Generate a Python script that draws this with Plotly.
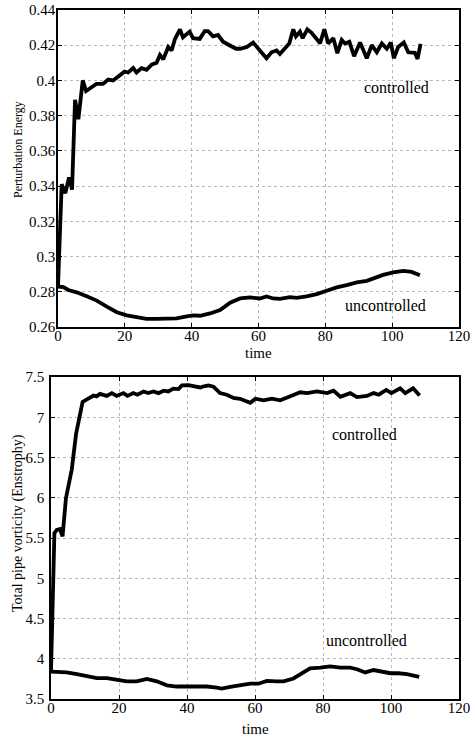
import plotly.graph_objects as go

# ---- Data: top panel (Perturbation Energy) ----
t_ctrl_top = [0, 1.1, 2.2, 3.3, 4.2, 5.1, 6.1, 7.4, 8.4, 10, 11.5, 13.5, 15, 16.5, 18, 19.9, 21, 22.5,
              23.5, 25, 26.5, 28, 29.5, 30.5, 31.5, 33, 34, 35, 36.5, 37.4, 39.4, 40.4, 42.4, 43.9,
              44.9, 46.4, 47.9, 49.4, 51.3, 53.3, 54.5, 56.5, 58.4, 60.4, 62.4, 63.9, 65.4, 66.4,
              67.9, 69.2, 70.4, 71.2, 72.4, 73.2, 74.6, 75.9, 77.2, 78.4, 79.7, 80.9, 82.4, 83.6,
              84.9, 85.9, 87.2, 88.6, 90.4, 92.4, 93.9, 95.4, 96.9, 98.4, 99.6, 100.5, 101.8,
              103.5, 104.8, 106.8, 107.6, 108.5]
e_ctrl = [0.283, 0.341, 0.336, 0.345, 0.338, 0.389, 0.378, 0.400, 0.394, 0.396, 0.398, 0.398, 0.4005,
          0.400, 0.402, 0.405, 0.4045, 0.407, 0.4045, 0.407, 0.406, 0.409, 0.410, 0.4145, 0.412, 0.419,
          0.417, 0.4235, 0.429, 0.4245, 0.4277, 0.424, 0.4236, 0.428, 0.428, 0.425, 0.4258, 0.422,
          0.420, 0.418, 0.418, 0.419, 0.4215, 0.4173, 0.4126, 0.416, 0.417, 0.415, 0.418, 0.421,
          0.429, 0.425, 0.4277, 0.424, 0.429, 0.427, 0.424, 0.421, 0.429, 0.421, 0.424, 0.4155,
          0.423, 0.421, 0.422, 0.4138, 0.4215, 0.4126, 0.420, 0.416, 0.421, 0.418, 0.4215, 0.4126,
          0.419, 0.4215, 0.416, 0.4157, 0.4122, 0.4207]

t_unc_top = [0, 1.6, 3.1, 5.6, 8.6, 11.6, 14.6, 17.6, 20.6, 23.5, 26.5, 29.5, 32.5, 35.5, 38.5, 40.5,
             42.5, 45.5, 48.5, 50, 51.5, 54.5, 57.5, 60.4, 62.4, 64.4, 66.4, 69.4, 71.4, 74.4, 77.4,
             80.4, 83.4, 86.4, 89.4, 92.4, 94.9, 97.3, 100.3, 103.3, 105.8, 108.3]
e_unc = [0.283, 0.2826, 0.281, 0.2797, 0.2774, 0.275, 0.2716, 0.2684, 0.2666, 0.2655, 0.2646, 0.2646,
         0.265, 0.2649, 0.266, 0.2666, 0.2664, 0.2677, 0.2696, 0.2715, 0.2738, 0.2762, 0.2768, 0.2762,
         0.2773, 0.2762, 0.276, 0.277, 0.2765, 0.2774, 0.2787, 0.2806, 0.2825, 0.2838, 0.2853, 0.2862,
         0.2882, 0.2896, 0.291, 0.2919, 0.2913, 0.2894]

# ---- Data: bottom panel (Enstrophy) ----
t_ctrl_bot = [0, 1.0, 1.7, 2.6, 3.4, 4.4, 6.1, 7.4, 9.3, 11.0, 12.5, 13.4, 14.4, 16.4, 17.9, 19.3,
              21.3, 22.5, 24.2, 25.4, 27.2, 28.6, 30.1, 31.6, 33.1, 34.5, 36.0, 37.5, 38.5, 40.4,
              42.4, 43.9, 45.0, 46.3, 47.8, 49.7, 51.7, 53.7, 55.6, 58.6, 60.1, 62.5, 65.0, 67.4,
              70.4, 73.3, 75.3, 78.2, 81.2, 83.1, 85.1, 88.0, 90.0, 92.9, 94.9, 96.4, 98.6, 100.1,
              102.7, 104.2, 106.5, 108.4]
s_ctrl = [3.84, 5.56, 5.60, 5.61, 5.52, 5.995, 6.35, 6.80, 7.19, 7.23, 7.27, 7.26, 7.29, 7.265, 7.30,
          7.265, 7.30, 7.265, 7.30, 7.28, 7.32, 7.30, 7.32, 7.30, 7.33, 7.32, 7.355, 7.35, 7.395, 7.40,
          7.385, 7.37, 7.385, 7.395, 7.38, 7.30, 7.28, 7.24, 7.23, 7.18, 7.23, 7.21, 7.23, 7.21, 7.26,
          7.31, 7.30, 7.32, 7.30, 7.33, 7.255, 7.30, 7.25, 7.265, 7.30, 7.28, 7.34, 7.30, 7.36, 7.30,
          7.36, 7.27]

t_unc_bot = [0, 4.6, 7.6, 10.5, 13.5, 16.4, 19.3, 22.3, 25.2, 28.2, 31.1, 34.1, 37.0, 39.9, 42.9,
             45.8, 48.8, 50.2, 52.7, 55.6, 58.6, 61.0, 63.5, 66.4, 68.4, 71.3, 73.8, 76.2, 79.2, 82.1,
             85.1, 88.0, 90.0, 92.4, 94.9, 97.3, 99.8, 102.2, 104.7, 108.3]
s_unc = [3.84, 3.83, 3.81, 3.79, 3.76, 3.76, 3.74, 3.72, 3.72, 3.75, 3.72, 3.67, 3.655, 3.655, 3.65,
         3.655, 3.64, 3.63, 3.65, 3.67, 3.69, 3.69, 3.725, 3.72, 3.72, 3.755, 3.82, 3.88, 3.89, 3.905,
         3.89, 3.89, 3.87, 3.83, 3.86, 3.845, 3.82, 3.82, 3.81, 3.775]

x_ticks = [0, 20, 40, 60, 80, 100, 120]
y_ticks_top = [0.26, 0.28, 0.3, 0.32, 0.34, 0.36, 0.38, 0.4, 0.42, 0.44]
y_ticks_bot = [3.5, 4, 4.5, 5, 5.5, 6, 6.5, 7, 7.5]

FONT = "Times New Roman"
W, H = 475, 738

line = dict(color="black", width=3.8)
fig = go.Figure()
fig.add_trace(go.Scatter(x=t_ctrl_top, y=e_ctrl, mode="lines", line=line, xaxis="x", yaxis="y"))
fig.add_trace(go.Scatter(x=t_unc_top, y=e_unc, mode="lines", line=line, xaxis="x", yaxis="y"))
fig.add_trace(go.Scatter(x=t_ctrl_bot, y=s_ctrl, mode="lines", line=line, xaxis="x2", yaxis="y2"))
fig.add_trace(go.Scatter(x=t_unc_bot, y=s_unc, mode="lines", line=line, xaxis="x2", yaxis="y2"))

axis_common = dict(
    showline=True, linecolor="black", linewidth=1.6, mirror="allticks",
    ticks="inside", ticklen=4, tickwidth=1, tickcolor="black", automargin=False,
    showgrid=True, gridcolor="#b8b8b8", griddash="dot", gridwidth=1,
    zeroline=False, tickfont=dict(family=FONT, size=15, color="black"),
)

top_y0, top_y1 = 1 - 327 / H, 1 - 10 / H
bot_y0, bot_y1 = 1 - 699 / H, 1 - 377 / H

fig.update_layout(
    width=W, height=H, margin=dict(l=0, r=0, t=0, b=0, pad=0),
    paper_bgcolor="white", plot_bgcolor="white", showlegend=False,
    font=dict(family=FONT, color="black"),
    xaxis=dict(axis_common, domain=[58 / W, 459 / W], range=[0, 120], tickvals=x_ticks,
               anchor="y", ticklabelstandoff=-6),
    yaxis=dict(axis_common, domain=[top_y0, top_y1], range=[0.26, 0.44], tickvals=y_ticks_top,
               ticktext=[f"{v:g}" for v in y_ticks_top], anchor="x", ticklabelstandoff=-2),
    xaxis2=dict(axis_common, domain=[51 / W, 459 / W], range=[0, 120], tickvals=x_ticks,
                anchor="y2", ticklabelstandoff=-6),
    yaxis2=dict(axis_common, domain=[bot_y0, bot_y1], range=[3.5, 7.5], tickvals=y_ticks_bot,
                ticktext=[f"{v:g}" for v in y_ticks_bot], anchor="x2", ticklabelstandoff=2),
)

ann_font = dict(family=FONT, size=16, color="black")
fig.add_annotation(x=101.3, y=0.3962, xref="x", yref="y", text="controlled", showarrow=False, font=ann_font)
fig.add_annotation(x=98.0, y=0.272, xref="x", yref="y", text="uncontrolled", showarrow=False, font=ann_font)
fig.add_annotation(x=92.1, y=6.78, xref="x2", yref="y2", text="controlled", showarrow=False, font=ann_font)
fig.add_annotation(x=92.9, y=4.225, xref="x2", yref="y2", text="uncontrolled", showarrow=False, font=ann_font)

# axis titles
fig.add_annotation(x=18 / W, y=1 - 150 / H, xref="paper", yref="paper", text="Perturbation Energy",
                   textangle=-90, showarrow=False, xanchor="center", yanchor="middle",
                   font=dict(family=FONT, size=12, color="black"))
fig.add_annotation(x=18 / W, y=1 - 523 / H, xref="paper", yref="paper", text="Total pipe vorticity (Enstrophy)",
                   textangle=-90, showarrow=False, xanchor="center", yanchor="middle",
                   font=dict(family=FONT, size=14, color="black"))
fig.add_annotation(x=258 / W, y=1 - 353 / H, xref="paper", yref="paper", text="time",
                   showarrow=False, xanchor="center", yanchor="middle",
                   font=dict(family=FONT, size=15, color="black"))
fig.add_annotation(x=255 / W, y=1 - 729 / H, xref="paper", yref="paper", text="time",
                   showarrow=False, xanchor="center", yanchor="middle",
                   font=dict(family=FONT, size=15, color="black"))

fig.write_html("out.html")
